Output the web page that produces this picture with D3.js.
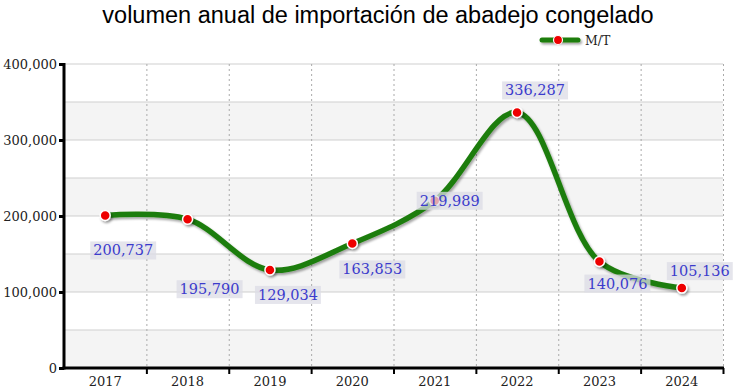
<!DOCTYPE html>
<html><head><meta charset="utf-8">
<script src="https://cdn.jsdelivr.net/npm/d3@7"></script>
<style>body{margin:0;background:#fff}</style>
</head><body>
<svg id="c" width="735" height="392"></svg>
<script>
const years = ["2017","2018","2019","2020","2021","2022","2023","2024"];
const values = [200737,195790,129034,163853,219989,336287,140076,105136];
const yTicks = [0,100000,200000,300000,400000];
const seriesName = "M/T";
const title = "volumen anual de importación de abadejo congelado";
// label offsets (layout)
const labelOff = [[18,35],[22,70],[18,25],[20,26],[15,0],[18,-22],[18,22],[18,-17]];

const svg = d3.select("#c");
const m = {l:64, r:723, t:64, b:368};
const x = d3.scaleBand().domain(years).range([m.l,m.r]);
const y = d3.scaleLinear().domain([0,400000]).range([m.b,m.t]);

const defs = svg.append("defs");
const f = defs.append("filter").attr("id","sh").attr("filterUnits","userSpaceOnUse")
  .attr("x",0).attr("y",0).attr("width",735).attr("height",392);
f.append("feDropShadow").attr("dx",1.5).attr("dy",2).attr("stdDeviation",1.2).attr("flood-color","#000").attr("flood-opacity",0.35);

// bands
const bands = d3.range(0,400000,50000);
svg.append("g").selectAll("rect").data(bands.filter((d,i)=>i%2===0)).join("rect")
  .attr("x",m.l).attr("width",m.r-m.l)
  .attr("y",d=>y(d+50000)).attr("height",d=>y(d)-y(d+50000))
  .attr("fill","#f4f4f4");
// horizontal grid
svg.append("g").selectAll("line").data(d3.range(50000,400001,50000)).join("line")
  .attr("x1",m.l).attr("x2",m.r).attr("y1",d=>y(d)).attr("y2",d=>y(d))
  .attr("stroke","#cfcfcf").attr("stroke-width",1);
// vertical dashed grid
const bounds = years.slice(1).map(d=>x(d)).concat([m.r]);
svg.append("g").selectAll("line").data(bounds).join("line")
  .attr("x1",d=>d+0.5).attr("x2",d=>d+0.5).attr("y1",m.t).attr("y2",m.b)
  .attr("stroke","#aaa").attr("stroke-dasharray","2,3").attr("stroke-width",1);

// axes
const yAx = svg.append("g").attr("transform",`translate(${m.l},0)`)
  .call(d3.axisLeft(y).tickValues(yTicks).tickFormat(d3.format(",")).tickSize(5).tickPadding(2));
yAx.select(".domain").remove();
yAx.selectAll(".tick line").attr("stroke","#000").attr("stroke-width",3);
yAx.selectAll("text").attr("font-family","'DejaVu Serif', serif").attr("font-size",13).attr("fill","#222");
svg.append("line").attr("x1",m.l).attr("x2",m.l).attr("y1",m.t-1).attr("y2",m.b+1.5).attr("stroke","#000").attr("stroke-width",3);

const xAx = svg.append("g").attr("transform",`translate(0,${m.b})`)
  .call(d3.axisBottom(x).tickSize(0).tickPadding(9));
xAx.select(".domain").remove();
xAx.selectAll("text").attr("font-family","'DejaVu Serif', serif").attr("font-size",13).attr("fill","#222");
svg.append("line").attr("x1",m.l-1.5).attr("x2",m.r+1).attr("y1",m.b).attr("y2",m.b).attr("stroke","#000").attr("stroke-width",3);
svg.append("g").selectAll("line").data(bounds).join("line")
  .attr("x1",d=>d+0.5).attr("x2",d=>d+0.5).attr("y1",m.b).attr("y2",m.b+6)
  .attr("stroke","#000").attr("stroke-width",2);

// line
const cx = d=>x(d)+x.bandwidth()/2;
const line = d3.line().x((d,i)=>cx(years[i])).y(d=>y(d)).curve(d3.curveCatmullRom.alpha(0.5));
svg.append("path").datum(values).attr("d",line).attr("fill","none")
  .attr("stroke","#1e7d0c").attr("stroke-width",5.5).attr("stroke-linecap","round").attr("filter","url(#sh)");
svg.append("g").selectAll("circle").data(values).join("circle")
  .attr("cx",(d,i)=>cx(years[i])).attr("cy",d=>y(d)).attr("r",5)
  .attr("fill","#ee0000").attr("stroke","#fff").attr("stroke-width",1.5).attr("filter","url(#sh)");

// labels
const fmt = d3.format(",");
const lg = svg.append("g");
values.forEach((v,i)=>{
  const px = cx(years[i])+labelOff[i][0], py = y(v)+labelOff[i][1];
  const g = lg.append("g");
  const t = g.append("text").attr("x",px).attr("y",py).attr("text-anchor","middle").attr("dominant-baseline","central")
    .attr("font-family","'DejaVu Serif', serif").attr("font-size",14.5).attr("fill","#3b3bcc").text(fmt(v));
  const bb = t.node().getBBox();
  g.insert("rect","text").attr("x",bb.x-3).attr("y",bb.y-1).attr("width",bb.width+6).attr("height",bb.height+2)
    .attr("fill","#dcdce6").attr("opacity",0.75);
});

// title
svg.append("text").attr("x",378).attr("y",23).attr("text-anchor","middle")
  .attr("font-family","'Liberation Sans', Arial, sans-serif").attr("font-size",23.5).attr("fill","#000").text(title);

// legend
const lgd = svg.append("g");
lgd.append("line").attr("x1",542).attr("x2",578).attr("y1",40).attr("y2",40).attr("stroke","#1e7d0c").attr("stroke-width",5).attr("stroke-linecap","round").attr("filter","url(#sh)");
lgd.append("circle").attr("cx",558).attr("cy",40).attr("r",4.5).attr("fill","#ee0000").attr("stroke","#fff").attr("stroke-width",1.2);
lgd.append("text").attr("x",585).attr("y",44.5).attr("font-family","'DejaVu Serif', serif").attr("font-size",12.5).attr("fill","#222").text(seriesName);
</script>
</body></html>
